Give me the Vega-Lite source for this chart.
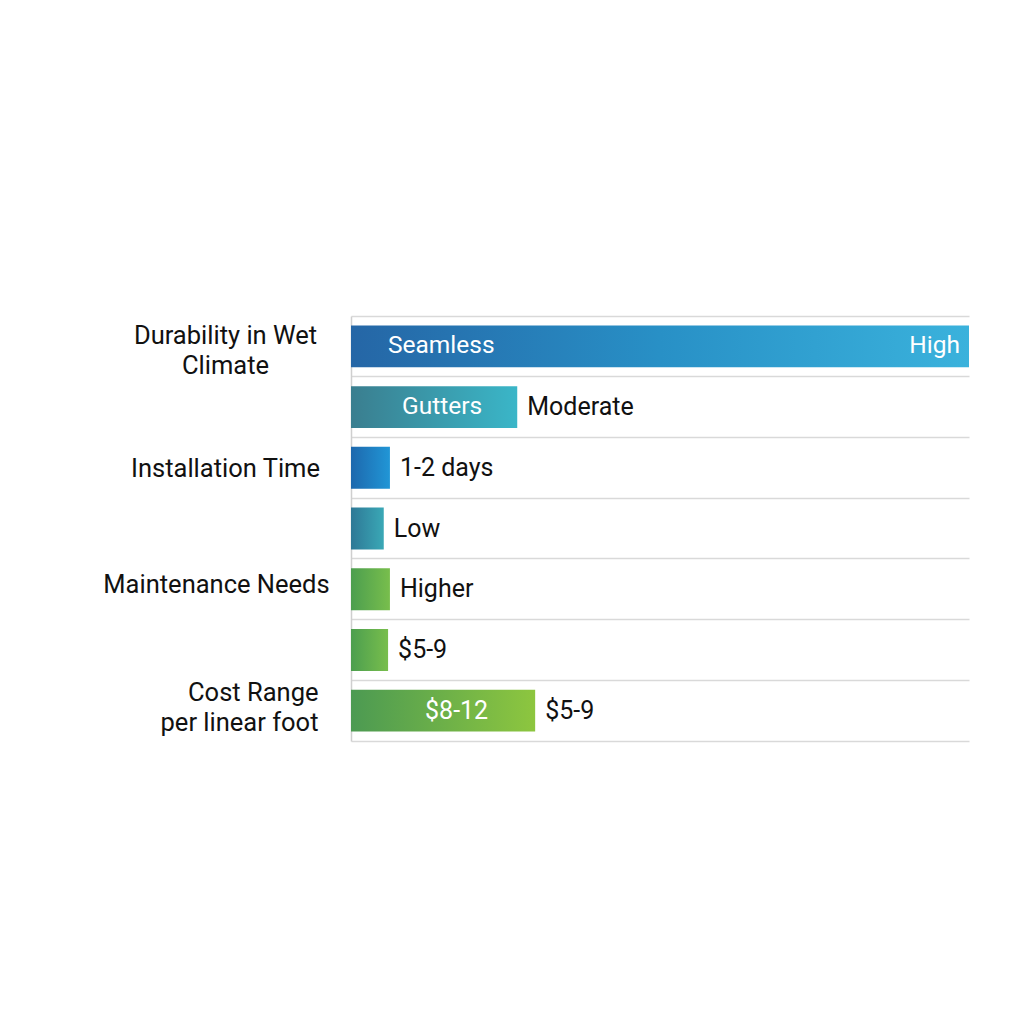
{
  "$schema": "https://vega.github.io/schema/vega-lite/v6.json",
  "autosize": {"type": "none"},
  "padding": {"left": 351, "top": 316, "right": 55, "bottom": 283},
  "width": 618,
  "height": 425,
  "background": "#ffffff",
  "config": {"view": {"stroke": null}, "font": "Roboto"},
  "data": {
    "values": [
      {"row": 1, "value": 100, "grad": "b1", "inLeft": "Seamless", "inEnd": "High"},
      {"row": 2, "value": 26.9, "grad": "b2", "inMid": "Gutters", "out": "Moderate"},
      {"row": 3, "value": 6.3, "grad": "b3", "out": "1-2 days"},
      {"row": 4, "value": 5.3, "grad": "b4", "out": "Low"},
      {"row": 5, "value": 6.3, "grad": "g1", "out": "Higher"},
      {"row": 6, "value": 6.0, "grad": "g1", "out": "$5-9"},
      {"row": 7, "value": 29.8, "grad": "g2", "inMid2": "$8-12", "out": "$5-9"}
    ]
  },
  "encoding": {
    "y": {
      "field": "row",
      "type": "ordinal",
      "scale": {"paddingInner": 0.31, "paddingOuter": 0.155},
      "axis": {
        "title": null,
        "domain": true,
        "domainColor": "#cfcfcf",
        "domainWidth": 1.5,
        "ticks": false,
        "tickSize": 0,
        "grid": true,
        "gridColor": "#d9d9d9",
        "gridWidth": 1.5,
        "bandPosition": -0.2246,
        "labelOffset": {"condition": [{"test": "datum.value == 1", "value": -10}, {"test": "datum.value == 7", "value": -18}, {"test": "datum.value == 5", "value": -4}], "value": 1},
        "labelPadding": {"condition": [{"test": "datum.value == 7", "value": 33}, {"test": "datum.value == 5", "value": 135}], "value": 126},
        "labelAlign": {"condition": {"test": "datum.value == 7", "value": "right"}, "value": "center"},
        "labelBaseline": "middle",
        "labelFontSize": 25.5,
        "labelColor": "#111111",
        "labelFont": "Roboto",
        "labelLineHeight": 30,
        "labelLimit": 0,
        "labelOverlap": false,
        "labelExpr": "datum.value == 1 ? ['Durability in Wet', 'Climate'] : datum.value == 3 ? 'Installation Time' : datum.value == 5 ? 'Maintenance Needs' : datum.value == 7 ? ['Cost Range', 'per linear foot'] : ''"
      }
    },
    "x": {
      "field": "value",
      "type": "quantitative",
      "scale": {"domain": [0, 100], "nice": false},
      "axis": {
        "title": null,
        "labels": false,
        "ticks": false,
        "grid": false,
        "domain": true,
        "domainColor": "#d9d9d9",
        "domainWidth": 1.5
      }
    }
  },
  "layer": [
    {
      "transform": [{"filter": "datum.grad == 'b1'"}],
      "mark": {"type": "bar", "fill": {"gradient": "linear", "x1": 0, "y1": 0, "x2": 1, "y2": 0, "stops": [{"offset": 0, "color": "#2566a6"}, {"offset": 0.5, "color": "#2890c6"}, {"offset": 1, "color": "#3ab2dc"}]}}
    },
    {
      "transform": [{"filter": "datum.grad == 'b2'"}],
      "mark": {"type": "bar", "fill": {"gradient": "linear", "x1": 0, "y1": 0, "x2": 1, "y2": 0, "stops": [{"offset": 0, "color": "#3a7e8f"}, {"offset": 1, "color": "#3ab6c8"}]}}
    },
    {
      "transform": [{"filter": "datum.grad == 'b3'"}],
      "mark": {"type": "bar", "fill": {"gradient": "linear", "x1": 0, "y1": 0, "x2": 1, "y2": 0, "stops": [{"offset": 0, "color": "#1d68ad"}, {"offset": 1, "color": "#2196d6"}]}}
    },
    {
      "transform": [{"filter": "datum.grad == 'b4'"}],
      "mark": {"type": "bar", "fill": {"gradient": "linear", "x1": 0, "y1": 0, "x2": 1, "y2": 0, "stops": [{"offset": 0, "color": "#2e7896"}, {"offset": 1, "color": "#3aa8b6"}]}}
    },
    {
      "transform": [{"filter": "datum.grad == 'g1'"}],
      "mark": {"type": "bar", "fill": {"gradient": "linear", "x1": 0, "y1": 0, "x2": 1, "y2": 0, "stops": [{"offset": 0, "color": "#4c9e4f"}, {"offset": 1, "color": "#78be4c"}]}}
    },
    {
      "transform": [{"filter": "datum.grad == 'g2'"}],
      "mark": {"type": "bar", "fill": {"gradient": "linear", "x1": 0, "y1": 0, "x2": 1, "y2": 0, "stops": [{"offset": 0, "color": "#4c9a52"}, {"offset": 1, "color": "#8dc63f"}]}}
    },
    {
      "transform": [{"filter": "isValid(datum.out)"}],
      "mark": {"type": "text", "align": "left", "baseline": "middle", "dx": 10, "fontSize": 25, "font": "Roboto", "color": "#111111"},
      "encoding": {"text": {"field": "out"}}
    },
    {
      "transform": [{"filter": "isValid(datum.inLeft)"}],
      "mark": {"type": "text", "align": "left", "baseline": "middle", "dx": 37, "fontSize": 24.5, "font": "Roboto", "color": "#ffffff"},
      "encoding": {"x": {"datum": 0}, "text": {"field": "inLeft"}}
    },
    {
      "transform": [{"filter": "isValid(datum.inEnd)"}],
      "mark": {"type": "text", "align": "right", "baseline": "middle", "dx": -9, "fontSize": 24.5, "font": "Roboto", "color": "#ffffff"},
      "encoding": {"text": {"field": "inEnd"}}
    },
    {
      "transform": [{"filter": "isValid(datum.inMid)"}],
      "mark": {"type": "text", "align": "right", "baseline": "middle", "dx": -35, "fontSize": 24.5, "font": "Roboto", "color": "#ffffff"},
      "encoding": {"text": {"field": "inMid"}}
    },
    {
      "transform": [{"filter": "isValid(datum.inMid2)"}],
      "mark": {"type": "text", "align": "right", "baseline": "middle", "dx": -47, "fontSize": 25, "font": "Roboto", "color": "#ffffff"},
      "encoding": {"text": {"field": "inMid2"}}
    }
  ]
}
